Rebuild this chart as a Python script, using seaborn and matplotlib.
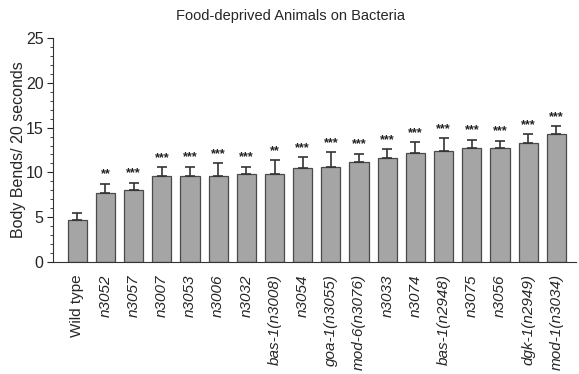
import matplotlib
matplotlib.use("Agg")
import matplotlib.pyplot as plt
import seaborn as sns
import pandas as pd
from matplotlib.ticker import MultipleLocator

# Strains, mean body bends per 20 s, upper SEM, and significance marks
strains = ["Wild type", "n3052", "n3057", "n3007", "n3053", "n3006", "n3032",
           "bas-1(n3008)", "n3054", "goa-1(n3055)", "mod-6(n3076)", "n3033",
           "n3074", "bas-1(n2948)", "n3075", "n3056", "dgk-1(n2949)", "mod-1(n3034)"]
means = [4.7, 7.7, 8.0, 9.6, 9.6, 9.55, 9.8, 9.85, 10.45, 10.55, 11.1, 11.65,
         12.2, 12.4, 12.7, 12.7, 13.25, 14.3]
sems = [0.7, 1.05, 0.85, 0.95, 1.05, 1.5, 0.85, 1.55, 1.25, 1.7, 1.0, 0.95,
        1.2, 1.4, 0.95, 0.85, 1.0, 0.9]
stars = ["", "**", "***", "***", "***", "***", "***", "**", "***", "***", "***",
         "***", "***", "***", "***", "***", "***", "***"]

df = pd.DataFrame({"strain": strains, "bends": means})

sns.set_style("ticks")
plt.rcParams["font.family"] = ["Liberation Sans", "DejaVu Sans"]

fig = plt.figure(figsize=(5.79, 3.74), dpi=100)
ax = fig.add_axes([0.092, 0.30, 0.903, 0.598])

sns.barplot(data=df, x="strain", y="bends", color="#a5a5a5", saturation=1,
            width=0.68, edgecolor="#4a4a4a", linewidth=0.9, errorbar=None, ax=ax)

x = range(len(strains))
ax.errorbar(x, means, yerr=[[0] * len(sems), sems], fmt="none",
            ecolor="#333333", elinewidth=1.2, capsize=3.5, capthick=1.2, zorder=3)

for xi, m, s, st in zip(x, means, sems, stars):
    if st:
        ax.text(xi, m + s + 0.35, st, ha="center", va="bottom", fontsize=9,
                fontweight="bold", color="#222222")

ax.set_ylim(0, 25)
ax.set_xlim(-0.85, len(strains) - 0.3)
ax.yaxis.set_major_locator(MultipleLocator(5))
ax.yaxis.set_minor_locator(MultipleLocator(1))
ax.tick_params(axis="y", which="major", length=4, width=0.8, labelsize=11.5, pad=3)
ax.tick_params(axis="y", which="minor", length=2, width=0.6)
ax.tick_params(axis="x", length=0, pad=9)
ax.set_xticks(list(x))
ax.set_xticklabels(strains, rotation=90, fontsize=11)
for lbl in ax.get_xticklabels():
    if lbl.get_text() != "Wild type":
        lbl.set_fontstyle("italic")

ax.set_xlabel("")
ax.set_ylabel("Body Bends/ 20 seconds", fontsize=11.5, labelpad=0)
fig.text(291 / 579, 1 - 16 / 374, "Food-deprived Animals on Bacteria",
         ha="center", va="center", fontsize=10.5)
sns.despine(ax=ax)
for sp in ("left", "bottom"):
    ax.spines[sp].set_linewidth(0.8)
    ax.spines[sp].set_color("#333333")

fig.savefig("out.png", dpi=100)
